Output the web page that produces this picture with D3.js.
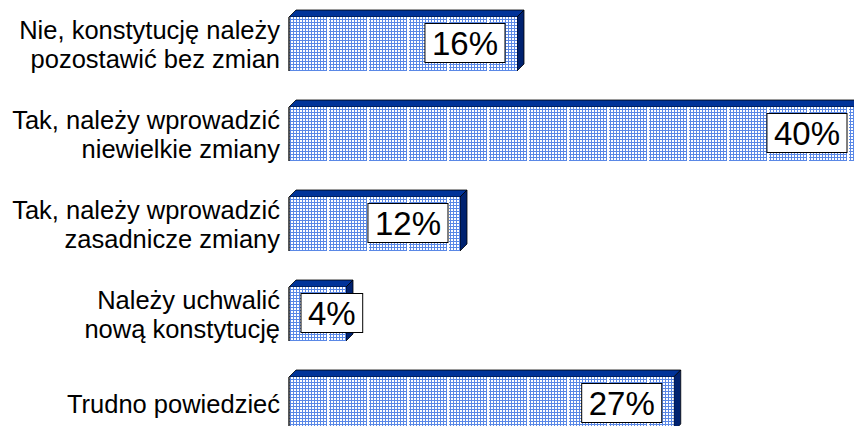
<!DOCTYPE html>
<html>
<head>
<meta charset="utf-8">
<script src="https://cdn.jsdelivr.net/npm/d3@7"></script>
<style>
  body { margin: 0; background: #fff; }
  svg { display: block; }
  text { font-family: Arial, "Liberation Sans", sans-serif; fill: #000; }
</style>
</head>
<body>
<div id="chart"></div>
<script>
// categories, each one split into its printed lines
var categories = [
  ["Nie, konstytucję należy", "pozostawić bez zmian"],
  ["Tak, należy wprowadzić", "niewielkie zmiany"],
  ["Tak, należy wprowadzić", "zasadnicze zmiany"],
  ["Należy uchwalić", "nową konstytucję"],
  ["Trudno powiedzieć"]
];
var values = [16, 40, 12, 4, 27];
var valueLabels = ["16%", "40%", "12%", "4%", "27%"];

var width = 854, height = 426;
var depth = 7;

var svg = d3.select("#chart").append("svg")
  .attr("width", width)
  .attr("height", height);

var defs = svg.append("defs");
var pat = defs.append("pattern")
  .attr("id", "grid")
  .attr("patternUnits", "userSpaceOnUse")
  .attr("x", 289)
  .attr("width", 40)
  .attr("height", 3);
pat.append("rect").attr("width", 40).attr("height", 3).attr("fill", "#fff");
pat.append("rect").attr("x", 0).attr("y", 1).attr("width", 38).attr("height", 1).attr("fill", "#5a88e6");
d3.range(0, 38, 3).forEach(function (px) {
  pat.append("rect").attr("x", px + 1).attr("y", 0).attr("width", 1).attr("height", 3).attr("fill", "#5a88e6");
});

var x = d3.scaleLinear()
  .domain([0, 40])
  .range([289, 859]);

var y = d3.scaleBand()
  .domain(d3.range(values.length))
  .range([-1, 449])
  .paddingInner(0.4)
  .paddingOuter(0.2);

var bars = svg.selectAll(".bar")
  .data(values)
  .enter().append("g")
  .attr("class", "bar");

// top face
bars.append("path")
  .attr("d", function (d, i) {
    var x0 = x(0), x1 = x(d), y0 = y(i);
    return "M" + x0 + "," + y0 + "L" + (x0 + depth) + "," + (y0 - depth) +
      "L" + (x1 + depth) + "," + (y0 - depth) + "L" + x1 + "," + y0 + "Z";
  })
  .attr("fill", "#00339a")
  .attr("stroke", "#000")
  .attr("stroke-width", 0.8);

// side face
bars.append("path")
  .attr("d", function (d, i) {
    var x1 = x(d), y0 = y(i), y1 = y(i) + y.bandwidth();
    return "M" + x1 + "," + y0 + "L" + (x1 + depth) + "," + (y0 - depth) +
      "L" + (x1 + depth) + "," + (y1 - depth) + "L" + x1 + "," + y1 + "Z";
  })
  .attr("fill", "#002270")
  .attr("stroke", "#000")
  .attr("stroke-width", 0.8);

// front face
bars.append("rect")
  .attr("x", x(0))
  .attr("y", function (d, i) { return y(i); })
  .attr("width", function (d) { return x(d) - x(0); })
  .attr("height", y.bandwidth())
  .attr("fill", "url(#grid)");

bars.append("line")
  .attr("x1", x(0)).attr("x2", x(0))
  .attr("y1", function (d, i) { return y(i); })
  .attr("y2", function (d, i) { return y(i) + y.bandwidth(); })
  .attr("stroke", "#222")
  .attr("stroke-width", 1.5);

// value labels in white boxes
bars.each(function (d, i) {
  var g = d3.select(this);
  var t = g.append("text")
    .attr("font-size", 33)
    .attr("text-anchor", "middle")
    .text(valueLabels[i]);
  var tw = t.node().getComputedTextLength();
  var bw = tw + 14, bh = 39;
  var right = x(d) - 12;
  var left = Math.max(right - bw, x(0) + 12);
  var cy = y(i) + y.bandwidth() / 2 - 1;
  g.insert("rect", "text")
    .attr("x", left)
    .attr("y", cy - bh / 2)
    .attr("width", bw)
    .attr("height", bh)
    .attr("fill", "#fff")
    .attr("stroke", "#000")
    .attr("stroke-width", 1);
  t.attr("x", left + bw / 2).attr("y", cy + 12);
});

// category labels
var lineH = 29;
svg.selectAll(".cat")
  .data(categories)
  .enter().append("text")
  .attr("class", "cat")
  .attr("font-size", 25.5)
  .attr("text-anchor", "end")
  .each(function (lines, i) {
    var cy = y(i) + y.bandwidth() / 2;
    var top = cy - lines.length * lineH / 2;
    d3.select(this).selectAll("tspan")
      .data(lines)
      .enter().append("tspan")
      .attr("x", 280)
      .attr("y", function (l, j) { return top + j * lineH + lineH / 2 + 9; })
      .text(function (l) { return l; });
  });
</script>
</body>
</html>
